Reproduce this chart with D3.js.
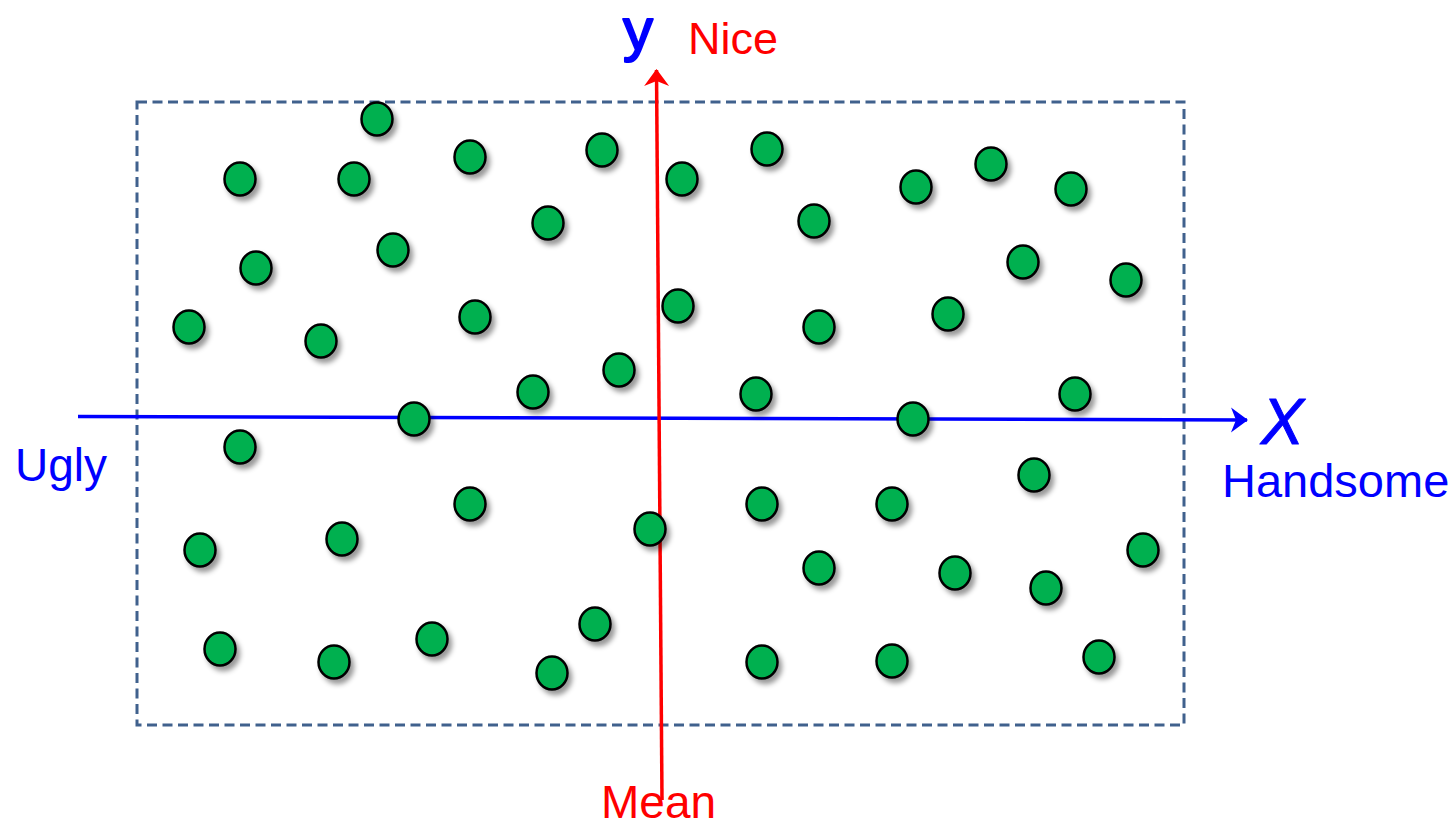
<!DOCTYPE html>
<html>
<head>
<meta charset="utf-8">
<script src="https://cdn.jsdelivr.net/npm/d3@7"></script>
<style>
  html, body { margin: 0; padding: 0; background: #fff; }
  svg { display: block; font-family: "Liberation Sans", Arial, sans-serif; }
</style>
</head>
<body>
<div id="chart"></div>
<script>
// scores measured from the box's lower-left corner
const handsome = [240, 103, 217, 333, 465, 411, 119, 256, 52, 184, 338, 482, 396,
    545, 630, 677, 779, 854, 934, 886, 989, 541, 682, 811, 619, 938,
    277, 103, 333, 205, 63, 513, 83, 197, 295, 458, 415,
    776, 897, 625, 755, 682, 818, 909, 1006, 625, 755, 962];
const nice = [606, 546, 546, 568, 575, 502, 457, 475, 398, 384, 408, 355, 333,
    546, 576, 504, 538, 561, 536, 463, 445, 419, 398, 411, 331, 331,
    306, 278, 221, 186, 175, 196, 76, 63, 86, 101, 52,
    306, 250, 221, 221, 157, 152, 137, 175, 63, 64, 68];

// the two reference lines (start, arrow tip)
const xAxisLine = [[-59, 308.5], [1110, 305]];
const meanLine = [[525, -75], [519.5, 655]];

const width = 1456, height = 822;
const box = { left: 137, top: 102, right: 1184, bottom: 725 };

const xScale = d3.scaleLinear().domain([0, 1047]).range([box.left, box.right]);
const yScale = d3.scaleLinear().domain([0, 623]).range([box.bottom, box.top]);

const svg = d3.select("#chart")
    .append("svg")
    .attr("width", width)
    .attr("height", height);

const defs = svg.append("defs");

const shadow = defs.append("filter")
    .attr("id", "dot-shadow")
    .attr("x", "-50%").attr("y", "-50%")
    .attr("width", "200%").attr("height", "200%");
shadow.append("feDropShadow")
    .attr("dx", 3.5)
    .attr("dy", 4.5)
    .attr("stdDeviation", 2.8)
    .attr("flood-color", "#000")
    .attr("flood-opacity", 0.4);

const addArrow = (id, color) => {
    defs.append("marker")
        .attr("id", id)
        .attr("markerUnits", "userSpaceOnUse")
        .attr("viewBox", "-20 -14 22 28")
        .attr("markerWidth", 22)
        .attr("markerHeight", 28)
        .attr("refX", 0)
        .attr("refY", 0)
        .attr("orient", "auto")
        .append("path")
        .attr("d", "M1,0 L-16,-12.5 L-11,0 L-16,12.5 Z")
        .attr("fill", color);
};
addArrow("arrow-blue", "#0000ff");
addArrow("arrow-red", "#ff0000");

// dashed frame
svg.append("rect")
    .attr("x", xScale(0))
    .attr("y", yScale(623))
    .attr("width", xScale(1047) - xScale(0))
    .attr("height", yScale(0) - yScale(623))
    .attr("fill", "none")
    .attr("stroke", "#40618d")
    .attr("stroke-width", 3)
    .attr("stroke-dasharray", "10 5.5");

const line = d3.line()
    .x(d => xScale(d[0]))
    .y(d => yScale(d[1]));

svg.append("path")
    .attr("d", line(xAxisLine))
    .attr("stroke", "#0000ff")
    .attr("stroke-width", 3.5)
    .attr("fill", "none")
    .attr("marker-end", "url(#arrow-blue)");

svg.append("path")
    .attr("d", line(meanLine))
    .attr("stroke", "#ff0000")
    .attr("stroke-width", 3.5)
    .attr("fill", "none")
    .attr("marker-end", "url(#arrow-red)");

const points = handsome.map((h, i) => ({ h, n: nice[i] }));

svg.append("g")
    .attr("filter", "url(#dot-shadow)")
    .selectAll("ellipse")
    .data(points)
    .join("ellipse")
    .attr("cx", d => xScale(d.h))
    .attr("cy", d => yScale(d.n))
    .attr("rx", 15.5)
    .attr("ry", 16.5)
    .attr("fill", "#00b050")
    .attr("stroke", "#000")
    .attr("stroke-width", 2.5);

// labels
const label = (txt, x, y, size, color) => svg.append("text")
    .attr("x", x)
    .attr("y", y)
    .attr("font-size", size)
    .attr("fill", color)
    .text(txt);

label("y", 623, 50, 60, "#0000ff")
    .attr("stroke", "#0000ff")
    .attr("stroke-width", 2)
    .attr("stroke-linejoin", "round");
label("Nice", 688, 54, 45, "#ff0000");

label("X", 1261, 444, 64, "#0000ff")
    .attr("font-style", "italic")
    .attr("stroke", "#0000ff")
    .attr("stroke-width", 1)
    .attr("stroke-linejoin", "round");
label("Handsome", 1222, 497, 47, "#0000ff");

label("Ugly", 15, 481, 46, "#0000ff");
label("Mean", 601, 818, 46, "#ff0000");
</script>
</body>
</html>
